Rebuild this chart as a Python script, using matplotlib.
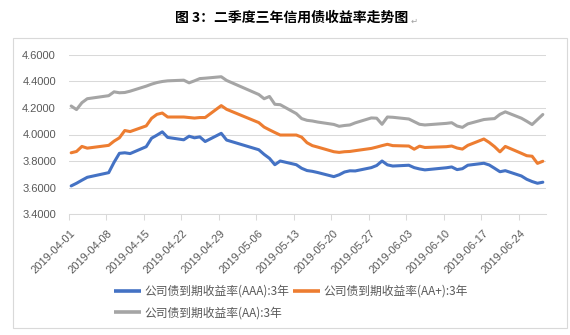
import matplotlib
matplotlib.use('Agg')
import matplotlib.pyplot as plt
import matplotlib.dates as mdates
import matplotlib.transforms as mtransforms
from matplotlib.patches import Rectangle
from matplotlib.ticker import FormatStrFormatter
import pandas as pd

plt.rcParams['font.family'] = ['Liberation Sans', 'Noto Sans CJK SC', 'DejaVu Sans']

title = '图 3：二季度三年信用债收益率走势图'
series_names = ['公司债到期收益率(AAA):3年', '公司债到期收益率(AA+):3年', '公司债到期收益率(AA):3年']

dates = ['2019-04-01', '2019-04-02', '2019-04-03', '2019-04-04',
         '2019-04-08', '2019-04-09', '2019-04-10', '2019-04-11', '2019-04-12',
         '2019-04-15', '2019-04-16', '2019-04-17', '2019-04-18', '2019-04-19',
         '2019-04-22', '2019-04-23', '2019-04-24', '2019-04-25', '2019-04-26',
         '2019-04-29', '2019-04-30',
         '2019-05-06', '2019-05-07', '2019-05-08', '2019-05-09', '2019-05-10',
         '2019-05-13', '2019-05-14', '2019-05-15', '2019-05-16', '2019-05-17',
         '2019-05-20', '2019-05-21', '2019-05-22', '2019-05-23', '2019-05-24',
         '2019-05-27', '2019-05-28', '2019-05-29', '2019-05-30', '2019-05-31',
         '2019-06-03', '2019-06-04', '2019-06-05', '2019-06-06',
         '2019-06-10', '2019-06-11', '2019-06-12', '2019-06-13', '2019-06-14',
         '2019-06-17', '2019-06-18', '2019-06-19', '2019-06-20', '2019-06-21',
         '2019-06-24', '2019-06-25', '2019-06-26', '2019-06-27', '2019-06-28']

aaa = [3.612, 3.632, 3.655, 3.677,
       3.712, 3.790, 3.858, 3.862, 3.856,
       3.908, 3.972, 3.995, 4.020, 3.978,
       3.960, 3.987, 3.975, 3.982, 3.947,
       4.009, 3.958,
       3.885, 3.850, 3.820, 3.772, 3.800,
       3.772, 3.745, 3.728, 3.722, 3.713,
       3.682, 3.696, 3.717, 3.726, 3.725,
       3.750, 3.766, 3.800, 3.771, 3.762,
       3.768, 3.750, 3.740, 3.733,
       3.749, 3.755, 3.735, 3.742, 3.768,
       3.783, 3.770, 3.745, 3.719, 3.727,
       3.687, 3.662, 3.645, 3.632, 3.640]

aa_plus = [3.862, 3.872, 3.910, 3.897,
           3.918, 3.950, 3.975, 4.030, 4.022,
           4.065, 4.122, 4.152, 4.162, 4.132,
           4.132, 4.128, 4.124, 4.128, 4.128,
           4.218, 4.190,
           4.090, 4.056, 4.035, 4.015, 3.996,
           3.996, 3.980, 3.938, 3.916, 3.905,
           3.870, 3.865, 3.870, 3.872, 3.878,
           3.895, 3.905, 3.916, 3.926, 3.916,
           3.913, 3.889, 3.912, 3.902,
           3.908, 3.913, 3.898, 3.890, 3.918,
           3.966, 3.940, 3.908, 3.869, 3.910,
           3.858, 3.840, 3.836, 3.782, 3.798]

aa = [4.215, 4.188, 4.240, 4.270,
      4.293, 4.322, 4.315, 4.317, 4.327,
      4.365, 4.380, 4.392, 4.400, 4.405,
      4.410, 4.390, 4.405, 4.422, 4.425,
      4.436, 4.408,
      4.302, 4.270, 4.287, 4.228, 4.225,
      4.158, 4.120, 4.107, 4.102, 4.094,
      4.076, 4.062, 4.068, 4.072, 4.088,
      4.125, 4.123, 4.077, 4.132, 4.130,
      4.117, 4.097, 4.077, 4.072,
      4.084, 4.089, 4.064, 4.054, 4.080,
      4.113, 4.117, 4.120, 4.152, 4.171,
      4.123, 4.100, 4.075, 4.113, 4.151]

tick_dates = ['2019-04-01', '2019-04-08', '2019-04-15', '2019-04-22', '2019-04-29',
              '2019-05-06', '2019-05-13', '2019-05-20', '2019-05-27', '2019-06-03',
              '2019-06-10', '2019-06-17', '2019-06-24']
y_ticks = [3.4, 3.6, 3.8, 4.0, 4.2, 4.4, 4.6]

colors = ['#4472C4', '#ED7D31', '#A5A5A5']

W, H = 570, 335
fig = plt.figure(figsize=(W / 100, H / 100), dpi=100)


def fx(px):
    return px / W


def fy(py):
    return 1 - py / H


# outer chart frame
fig.patches.append(Rectangle((fx(13), fy(328)), fx(567) - fx(13), fy(38) - fy(328),
                             transform=fig.transFigure, fill=False,
                             edgecolor='#D9D9D9', lw=0.8))

# title
fig.text(fx(292), fy(18), title, ha='center', va='center', fontsize=10,
         fontweight='bold', family=['Noto Sans CJK SC', 'DejaVu Sans'], color='#000000')
fig.text(fx(411), fy(21), '↵', ha='left', va='center', fontsize=6,
         family=['DejaVu Sans'], color='#A0A0A0')

ax = fig.add_axes([fx(68.5), fy(214), fx(545.5) - fx(68.5), fy(55) - fy(214)])

x = pd.to_datetime(dates) + pd.Timedelta(hours=12)
lines = []
for vals, c, name in zip([aaa, aa_plus, aa], colors, series_names):
    ln, = ax.plot(x, vals, color=c, lw=2.2, label=name,
                  solid_joinstyle='round', solid_capstyle='round')
    lines.append(ln)

ax.set_xlim(pd.Timestamp('2019-04-01'), pd.Timestamp('2019-06-29'))
ax.set_ylim(3.4, 4.6)
ax.set_yticks(y_ticks)
ax.yaxis.set_major_formatter(FormatStrFormatter('%.4f'))
ax.tick_params(axis='y', length=0, pad=9, labelsize=8, labelcolor='#595959')
ax.grid(axis='y', color='#D9D9D9', lw=0.75)
ax.set_axisbelow(True)
for s in ['left', 'right', 'top']:
    ax.spines[s].set_visible(False)
ax.spines['bottom'].set_color('#D9D9D9')
ax.spines['bottom'].set_linewidth(0.75)

tick_ts = pd.to_datetime(tick_dates)
ax.set_xticks(tick_ts)
ax.tick_params(axis='x', length=4, width=0.75, color='#D9D9D9', labelbottom=False)

offset = mtransforms.ScaledTranslation(5 / 100, -18 / 100, fig.dpi_scale_trans)
trans = ax.get_xaxis_transform() + offset
for d, lab in zip(tick_ts, tick_dates):
    ax.text(mdates.date2num(d), 0, lab, transform=trans, rotation=45,
            ha='right', va='center', rotation_mode='anchor',
            fontsize=8, color='#595959')

leg = fig.legend([lines[0], lines[2], lines[1]],
                 [series_names[0], series_names[2], series_names[1]],
                 ncol=2, loc='center', bbox_to_anchor=(fx(291), fy(302)),
                 frameon=False, fontsize=8.5, handlelength=2.3,
                 handletextpad=0.25, columnspacing=0.35, labelspacing=0.7,
                 borderpad=0)
for t in leg.get_texts():
    t.set_color('#595959')
    t.set_family(['Noto Sans CJK SC', 'DejaVu Sans'])
for h in leg.get_lines():
    h.set_linewidth(2.6)
    h.set_solid_capstyle('butt')

fig.savefig('out.png', dpi=100)
